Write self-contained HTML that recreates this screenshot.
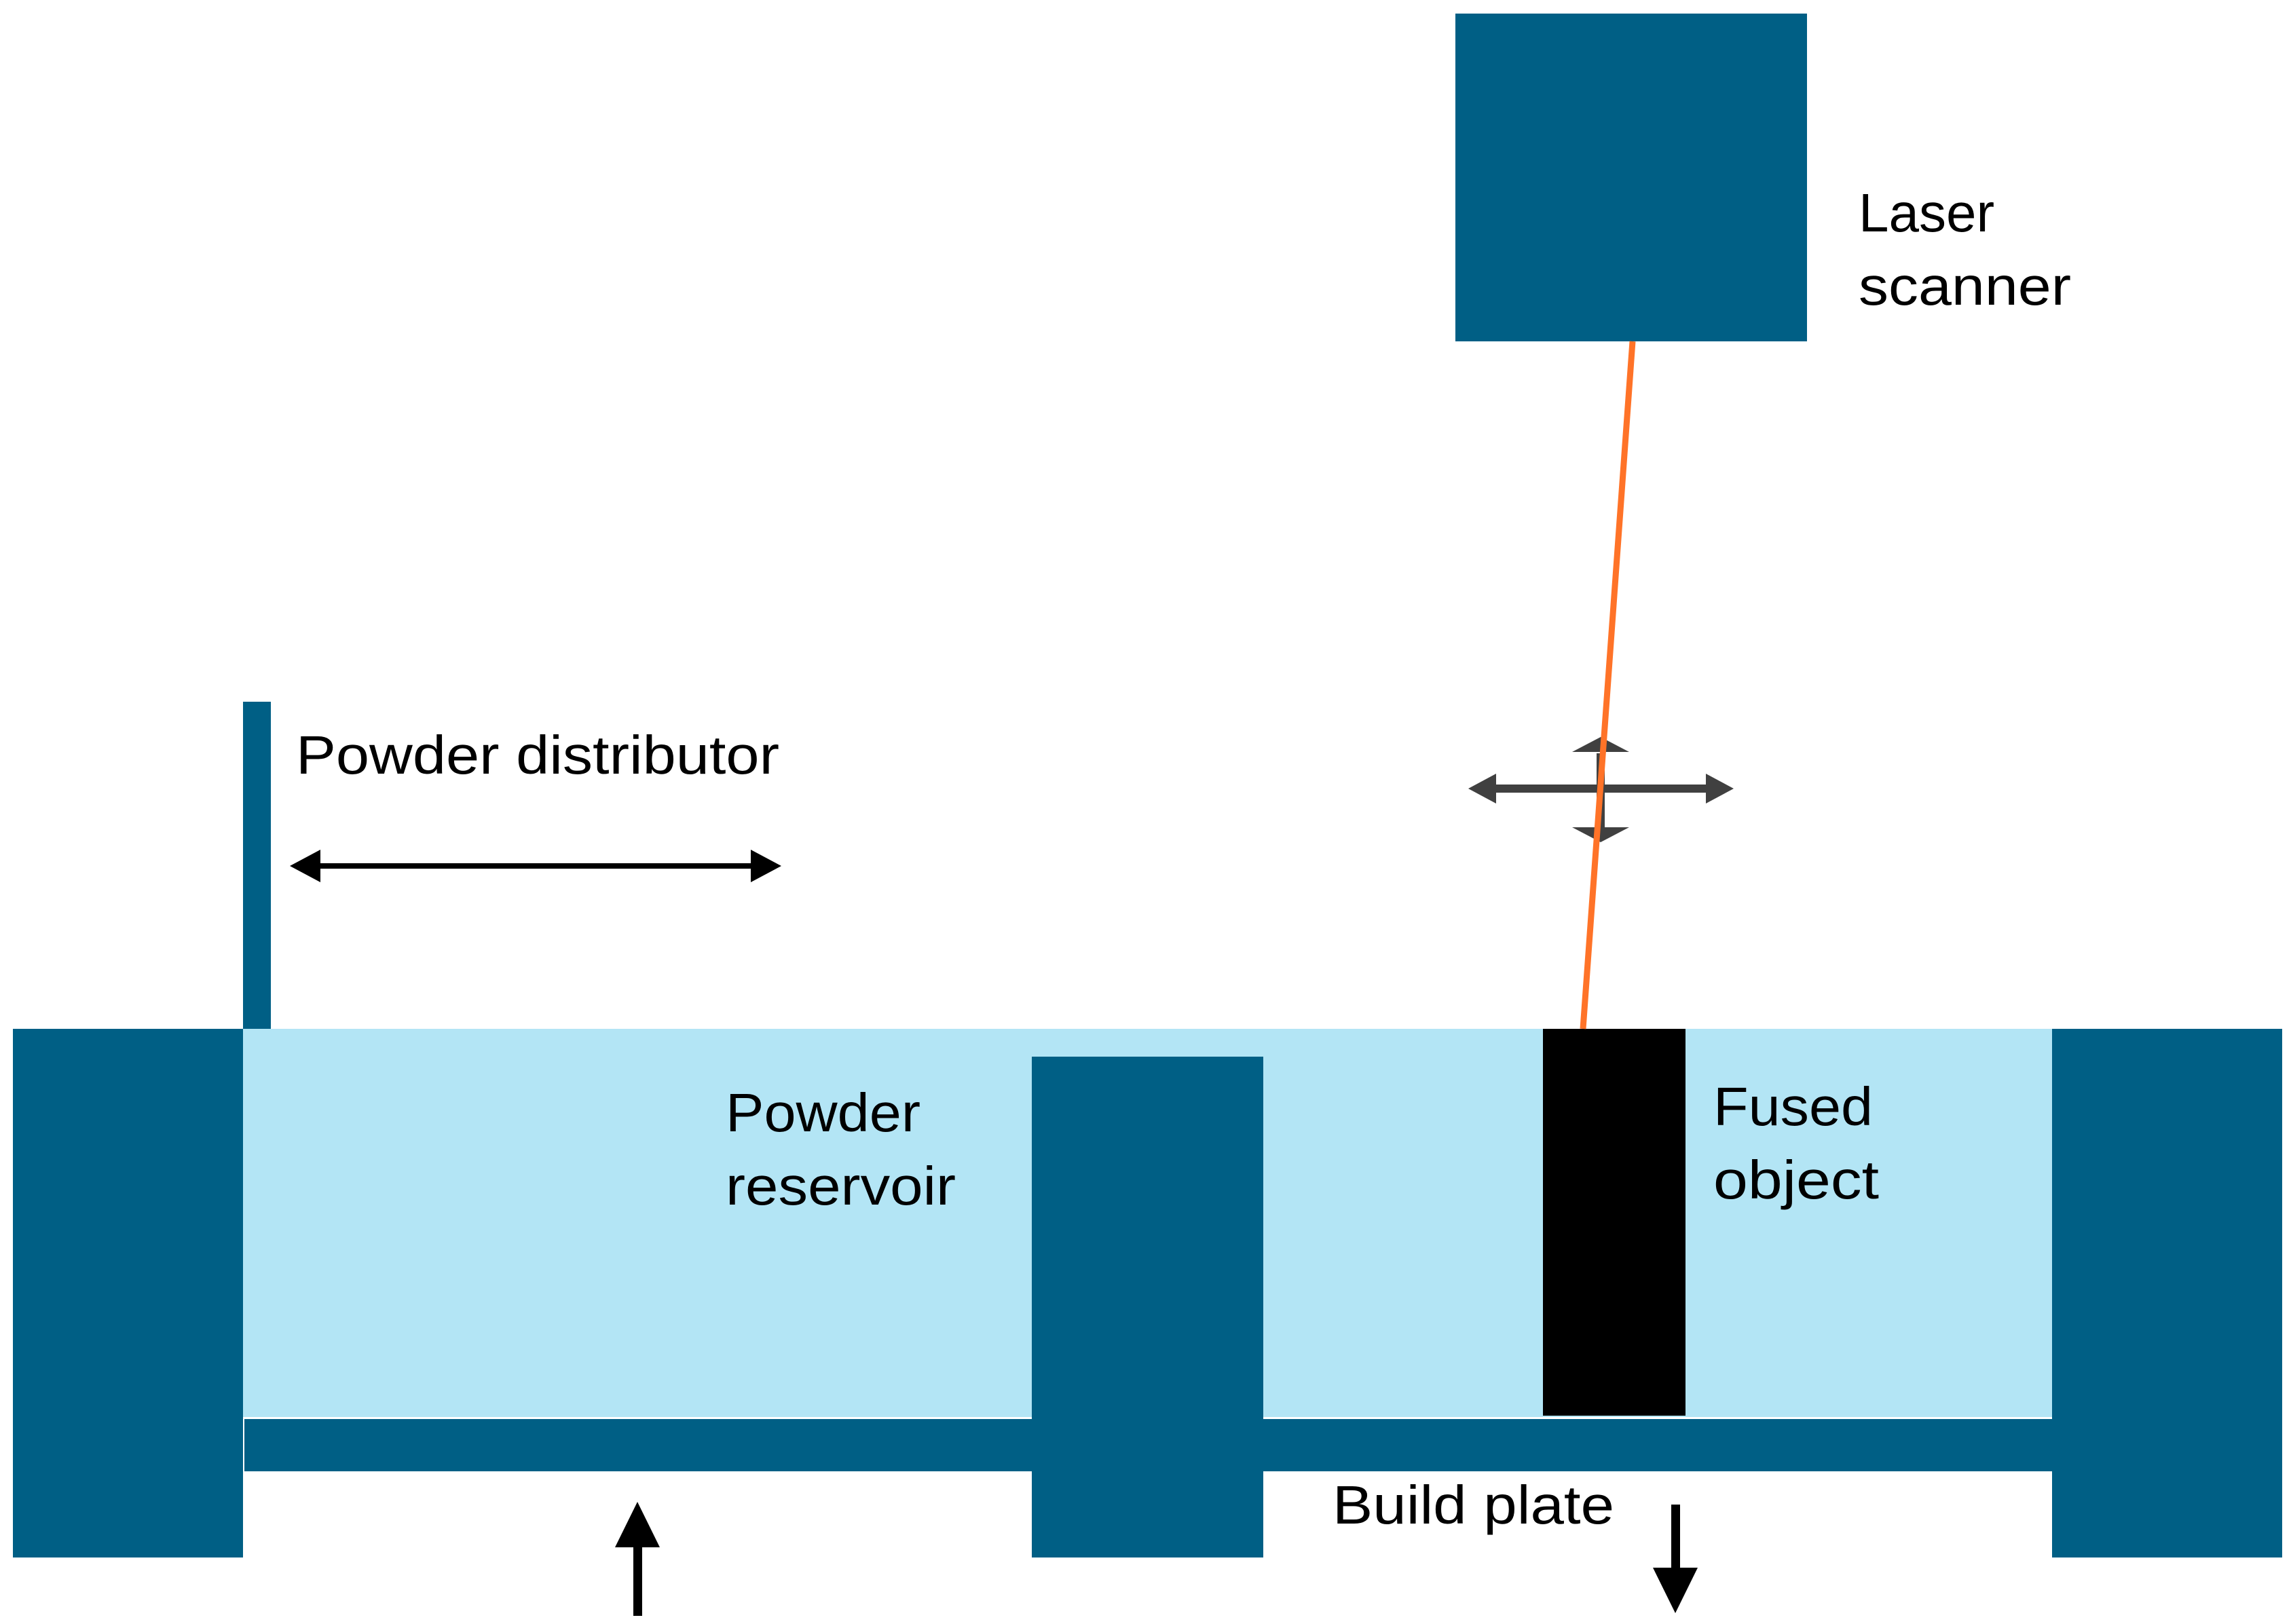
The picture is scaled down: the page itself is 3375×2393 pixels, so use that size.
<!DOCTYPE html>
<html><head><meta charset="utf-8"><style>
html,body{margin:0;padding:0;background:#fff;}
svg{display:block;}
text{font-family:"Liberation Sans",sans-serif;font-size:80px;fill:#000;}
</style></head><body>
<svg width="3375" height="2393" viewBox="0 0 3375 2393" xmlns="http://www.w3.org/2000/svg">
<rect x="0" y="0" width="3375" height="2393" fill="#fff"/>
<!-- laser scanner -->
<rect x="2144" y="20" width="518" height="483" fill="#005f85"/>
<text x="2738" y="341">Laser</text>
<text x="2738" y="449" textLength="313" lengthAdjust="spacingAndGlyphs">scanner</text>
<!-- powder bed -->
<rect x="358" y="1516" width="2665" height="572" fill="#b3e5f5"/>
<rect x="19" y="1516" width="339" height="779" fill="#005f85"/>
<rect x="1520" y="1557" width="341" height="738" fill="#005f85"/>
<rect x="3023" y="1516" width="339" height="779" fill="#005f85"/>
<rect x="360" y="2091" width="1160" height="77" fill="#005f85"/>
<rect x="1861" y="2091" width="1162" height="77" fill="#005f85"/>
<rect x="2273" y="1516" width="210" height="570" fill="#000"/>
<!-- distributor -->
<rect x="358" y="1034" width="41" height="482" fill="#005f85"/>
<text x="436" y="1140" textLength="712" lengthAdjust="spacingAndGlyphs">Powder distributor</text>
<line x1="460" y1="1276" x2="1118" y2="1276" stroke="#000" stroke-width="8"/>
<polygon points="427,1276 472,1252 472,1300" fill="#000"/>
<polygon points="1151,1276 1106,1252 1106,1300" fill="#000"/>
<!-- cross arrows -->
<g fill="#404040" stroke="none">
<rect x="2200" y="1156" width="318" height="12"/>
<polygon points="2163,1162 2204,1140 2204,1184"/>
<polygon points="2554,1162 2513,1140 2513,1184"/>
<rect x="2352" y="1110" width="12" height="110"/>
<polygon points="2358,1086 2316,1108 2400,1108"/>
<polygon points="2358,1241 2316,1219 2400,1219"/>
</g>
<!-- laser beam -->
<line x1="2405" y1="503" x2="2332" y2="1516" stroke="#ff7328" stroke-width="9"/>
<!-- labels -->
<text x="1069" y="1667" textLength="287" lengthAdjust="spacingAndGlyphs">Powder</text>
<text x="1069" y="1775" textLength="339" lengthAdjust="spacingAndGlyphs">reservoir</text>
<text x="2524" y="1658" textLength="235" lengthAdjust="spacingAndGlyphs">Fused</text>
<text x="2524" y="1766" textLength="244" lengthAdjust="spacingAndGlyphs">object</text>
<text x="1963" y="2245" textLength="415" lengthAdjust="spacingAndGlyphs">Build plate</text>
<!-- up/down arrows -->
<rect x="933" y="2270" width="13" height="111" fill="#000"/>
<polygon points="939,2213 906,2280 972,2280" fill="#000"/>
<rect x="2462" y="2217" width="13" height="100" fill="#000"/>
<polygon points="2468,2377 2435,2310 2501,2310" fill="#000"/>
</svg>
</body></html>
